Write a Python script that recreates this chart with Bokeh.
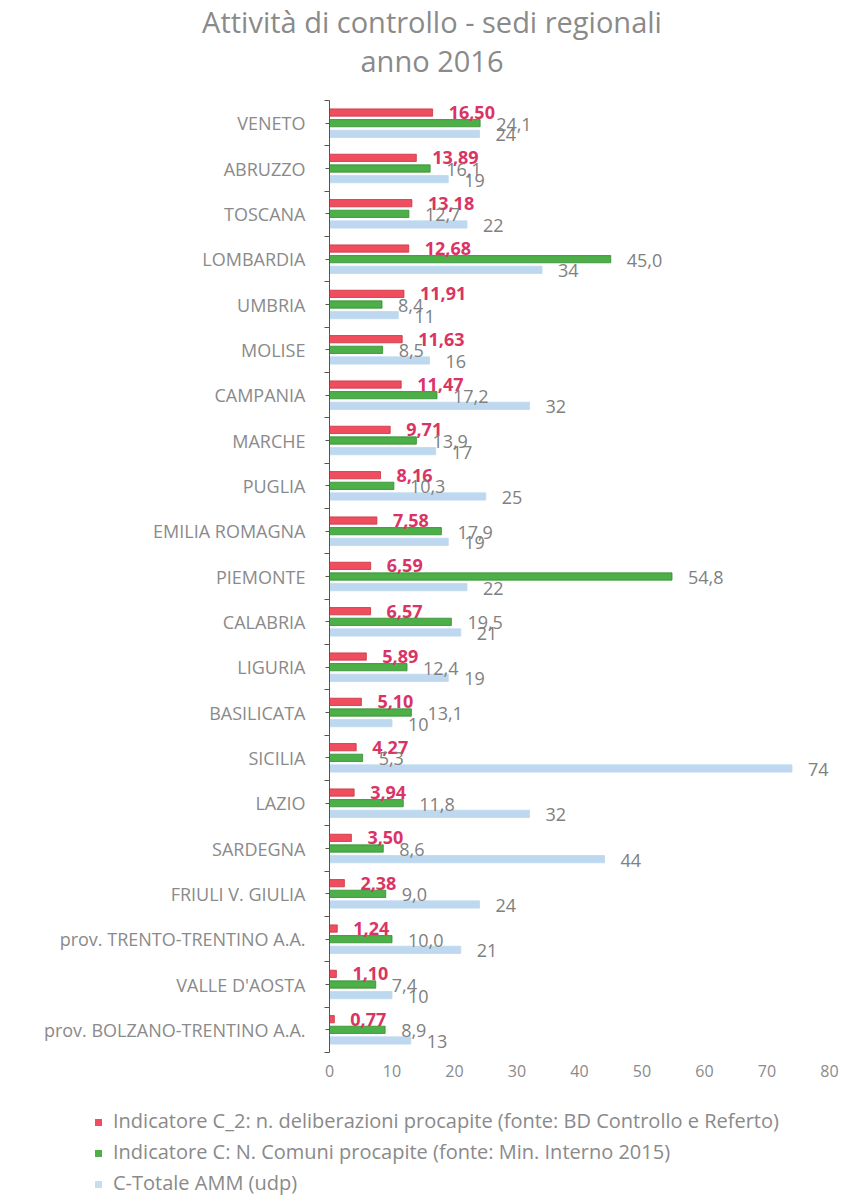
from bokeh.plotting import figure
from bokeh.layouts import column
from bokeh.models import Range1d, FixedTicker, ColumnDataSource, Div
from bokeh.core.properties import value
from bokeh.embed import file_html
from bokeh.resources import INLINE

regions = ["VENETO", "ABRUZZO", "TOSCANA", "LOMBARDIA", "UMBRIA", "MOLISE", "CAMPANIA",
           "MARCHE", "PUGLIA", "EMILIA ROMAGNA", "PIEMONTE", "CALABRIA", "LIGURIA",
           "BASILICATA", "SICILIA", "LAZIO", "SARDEGNA", "FRIULI V. GIULIA",
           "prov. TRENTO-TRENTINO A.A.", "VALLE D'AOSTA", "prov. BOLZANO-TRENTINO A.A."]
c2_delib = [16.50, 13.89, 13.18, 12.68, 11.91, 11.63, 11.47, 9.71, 8.16, 7.58, 6.59, 6.57,
            5.89, 5.10, 4.27, 3.94, 3.50, 2.38, 1.24, 1.10, 0.77]
c_comuni = [24.1, 16.1, 12.7, 45.0, 8.4, 8.5, 17.2, 13.9, 10.3, 17.9, 54.8, 19.5,
            12.4, 13.1, 5.3, 11.8, 8.6, 9.0, 10.0, 7.4, 8.9]
c_totale = [24, 19, 22, 34, 11, 16, 32, 17, 25, 19, 22, 21, 19, 10, 74, 32, 44, 24, 21, 10, 13]
x_ticks = [0, 10, 20, 30, 40, 50, 60, 70, 80]
series_names = ["Indicatore C_2: n. deliberazioni procapite (fonte: BD Controllo e Referto)",
                "Indicatore C: N. Comuni procapite (fonte: Min. Interno 2015)",
                "C-Totale AMM (udp)"]
title_lines = ["Attività di controllo - sedi regionali", "anno 2016"]

FONT = "Open Sans"
GRAY = "#8a8a8a"
RED, RED_L = "#F04D5E", "#C8323F"
GREEN, GREEN_L = "#4DAF48", "#338A30"
BLUE = "#BDD8EF"
series_colors = [RED, GREEN, "#C9DEEC"]
W = 840
TH, MH, LH = 95, 995, 105   # title, main, legend heights

# ---- title ----
title_html = (
    f'<div style="font-family:\'{FONT}\';color:{GRAY};font-size:29px;'
    f'margin-left:72px;width:720px;text-align:center;white-space:nowrap;">'
    f'<div style="height:44px;line-height:44px;">{title_lines[0]}</div>'
    f'<div style="height:34px;line-height:34px;">{title_lines[1]}</div></div>')
title_div = Div(text=title_html, width=W, height=TH, margin=0)

# ---- main chart ----
n = len(regions)
FL, FR = 329, 829
p = figure(width=W, height=MH, output_backend="svg", toolbar_location=None,
           x_range=Range1d(0, 80), y_range=Range1d(n - 0.5, -0.5),
           min_border_left=FL, min_border_right=W - FR, min_border_top=5,
           min_border_bottom=38)
p.outline_line_color = None
p.xgrid.visible = False
p.ygrid.visible = False

idx = list(range(n))
off = 0.235
bh = 0.16
src_r = ColumnDataSource(dict(y=[i - off for i in idx], v=c2_delib,
                              t=[f"{v:.2f}".replace(".", ",") for v in c2_delib]))
src_g = ColumnDataSource(dict(y=idx, v=c_comuni,
                              t=[f"{v:.1f}".replace(".", ",") for v in c_comuni]))
src_b = ColumnDataSource(dict(y=[i + off for i in idx], v=c_totale,
                              t=[f"{v:.0f}" for v in c_totale]))

p.hbar(y="y", right="v", left=0, height=bh, source=src_r,
       fill_color=RED, line_color=RED_L, line_width=0.8)
p.hbar(y="y", right="v", left=0, height=bh, source=src_g,
       fill_color=GREEN, line_color=GREEN_L, line_width=0.8)
p.hbar(y="y", right="v", left=0, height=bh, source=src_b,
       fill_color=BLUE, line_color=BLUE, line_width=0.8)

p.text(x="v", y="y", text="t", source=src_r, x_offset=16, y_offset=0,
       text_baseline="middle", text_align="left", text_font=value(FONT),
       text_font_size="18px", text_font_style="bold", text_color="#DA3465")
p.text(x="v", y="y", text="t", source=src_g, x_offset=16, y_offset=1,
       text_baseline="middle", text_align="left", text_font=value(FONT),
       text_font_size="18px", text_color="#808080")
p.text(x="v", y="y", text="t", source=src_b, x_offset=16, y_offset=1,
       text_baseline="middle", text_align="left", text_font=value(FONT),
       text_font_size="18px", text_color="#808080")

p.yaxis.ticker = FixedTicker(ticks=idx, minor_ticks=[i - 0.5 for i in range(n + 1)])
p.yaxis.major_label_overrides = {i: regions[i] for i in idx}
p.yaxis.major_label_text_font = FONT
p.yaxis.major_label_text_font_size = "18px"
p.yaxis.major_label_text_color = GRAY
p.yaxis.axis_line_color = "#555555"
p.yaxis.major_tick_line_color = "#555555"
p.yaxis.minor_tick_line_color = "#555555"
p.yaxis.major_tick_out = 4
p.yaxis.major_tick_in = 0
p.yaxis.minor_tick_out = 5
p.yaxis.minor_tick_in = 0
p.yaxis.major_label_standoff = 19

p.xaxis.ticker = FixedTicker(ticks=x_ticks)
p.xaxis.axis_line_color = None
p.xaxis.major_tick_line_color = None
p.xaxis.minor_tick_line_color = None
p.xaxis.major_label_text_font = FONT
p.xaxis.major_label_text_font_size = "16px"
p.xaxis.major_label_text_color = GRAY
p.xaxis.major_label_standoff = 6

# ---- legend ----
rows = "".join(
    f'<div style="height:31px;line-height:31px;white-space:nowrap;">'
    f'<span style="display:inline-block;width:7px;height:7px;background:{c};'
    f'margin-right:11px;vertical-align:middle;"></span>{name}</div>'
    for name, c in zip(series_names, series_colors))
legend_html = (f'<div style="font-family:\'{FONT}\';color:{GRAY};font-size:20px;'
               f'padding-top:15px;margin-left:95px;">{rows}</div>')
legend_div = Div(text=legend_html, width=W, height=LH, margin=0)

layout = column(title_div, p, legend_div, spacing=0)
open("out.html", "w").write(file_html(layout, INLINE))
